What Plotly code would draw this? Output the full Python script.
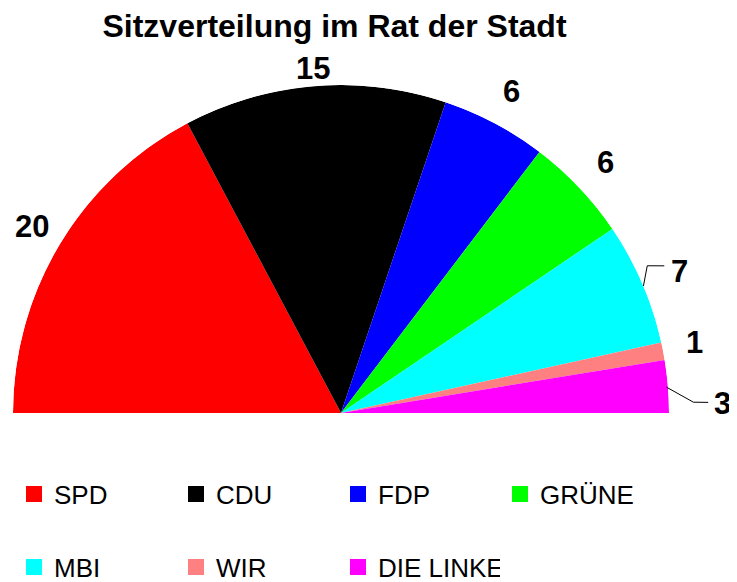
import math
import plotly.graph_objects as go

# ---- data ----
parties = ["SPD", "CDU", "FDP", "GRÜNE", "MBI", "WIR", "DIE LINKE"]
seats = [20, 15, 6, 6, 7, 1, 3]
colors = ["#FF0000", "#000000", "#0000FF", "#00FF00", "#00FFFF", "#FF8080", "#FF00FF"]
title_text = "Sitzverteilung im Rat der Stadt"

# ---- style / geometry (screen pixels; the page body adds an 8px margin) ----
OFF = 8
W, H = 737 - OFF, 582 - OFF          # figure size so that it fits the window
CX, CY, R = 341, 413, 328            # centre and radius of the half circle (screen px)
label_r = [1.10, 1.055, 1.11, 1.11, 1.12, 1.10, 1.163]
label_dtheta = [0, 0, 0, 0, -0.6, 0.4, -3.2]
FONT = "Liberation Sans, Arial, sans-serif"


def px(sx):
    return (sx - OFF) / W


def py(sy):
    return 1 - (sy - OFF) / H


total = sum(seats)
deg_per_seat = 180.0 / total

# slice geometry derived from data (clockwise from the left)
centers, widths = [], []
cum = 0
for v in seats:
    centers.append(180 - (cum + v / 2) * deg_per_seat)
    widths.append(v * deg_per_seat)
    cum += v


def to_paper(r, theta):
    a = math.radians(theta)
    return px(CX + r * R * math.cos(a)), py(CY - r * R * math.sin(a))


fig = go.Figure()
for i, (p, v, c) in enumerate(zip(parties, seats, colors)):
    lg = "legend" if i < 4 else "legend2"
    fig.add_trace(go.Barpolar(
        r=[1], theta=[centers[i]], width=[widths[i]], base=0,
        name=p, marker=dict(color=c, line=dict(width=0)),
        legendgroup=p, showlegend=False, hoverinfo="name",
    ))
    # legend entry with a larger square swatch
    fig.add_trace(go.Scatterpolar(
        r=[None], theta=[None], mode="markers", name=p,
        marker=dict(symbol="square", size=16, color=c),
        legendgroup=p, legend=lg, showlegend=True,
    ))

# value labels
annotations = []
for i, v in enumerate(seats):
    x, y = to_paper(label_r[i], centers[i] + label_dtheta[i])
    annotations.append(dict(
        x=x, y=y, xref="paper", yref="paper", text=str(v), showarrow=False,
        xanchor="center", yanchor="middle",
        font=dict(family=FONT, size=31, color="black", weight="bold"),
    ))

# leader lines for MBI and DIE LINKE
shapes = []
def leader(idx, pts):
    c = centers[idx]
    coords = [to_paper(p[0], c + p[1]) for p in pts]
    path = "M " + " L ".join(f"{x:.5f},{y:.5f}" for x, y in coords)
    shapes.append(dict(type="path", path=path, xref="paper", yref="paper",
                       line=dict(color="black", width=1)))

leader(4, [(1.0, -0.5), (1.036, 2.4), (1.083, 1.2)])
leader(6, [(0.995, -0.1), (1.075, -2.9), (1.12, -3.0)])

leg_common = dict(orientation="h", xanchor="left", yanchor="middle",
                  entrywidth=117, entrywidthmode="pixels", itemwidth=30,
                  font=dict(family=FONT, size=26, color="black"),
                  bgcolor="rgba(0,0,0,0)")

fig.update_layout(
    width=W, height=H,
    margin=dict(l=0, r=0, t=0, b=0, autoexpand=False),
    paper_bgcolor="white", plot_bgcolor="white",
    font=dict(family=FONT, color="black"),
    title=dict(text=title_text, x=px(334.5), xanchor="center",
               y=py(26), yanchor="middle",
               font=dict(family=FONT, size=32, color="black", weight="bold")),
    polar=dict(
        domain=dict(x=[px(CX - R), px(CX + R)], y=[py(CY), py(CY - R)]),
        sector=[0, 180],
        bgcolor="rgba(0,0,0,0)",
        radialaxis=dict(visible=False, range=[0, 1]),
        angularaxis=dict(visible=False, direction="counterclockwise", rotation=0),
    ),
    legend=dict(x=px(14), y=py(494), **leg_common),
    legend2=dict(x=px(14), y=py(567), **leg_common),
    annotations=annotations,
    shapes=shapes,
)

fig.write_html("out.html")
